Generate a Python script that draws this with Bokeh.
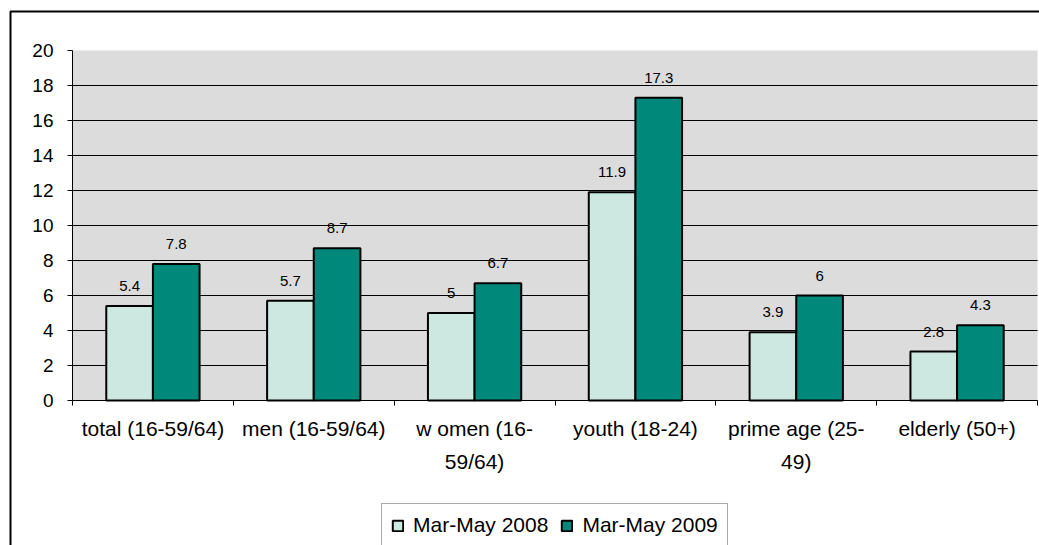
from bokeh.plotting import figure
from bokeh.models import ColumnDataSource, FixedTicker, LabelSet
from bokeh.core.properties import value
from bokeh.transform import dodge
from bokeh.embed import file_html
from bokeh.resources import INLINE

# Unemployment rate (%) by group, two survey periods
categories = ["total (16-59/64)", "men (16-59/64)", "w omen (16-\n59/64)",
              "youth (18-24)", "prime age (25-\n49)", "elderly (50+)"]
rate_2008 = [5.4, 5.7, 5.0, 11.9, 3.9, 2.8]
rate_2009 = [7.8, 8.7, 6.7, 17.3, 6.0, 4.3]
series_names = ["Mar-May 2008", "Mar-May 2009"]
y_ticks = list(range(0, 21, 2))

FONT = "Liberation Sans"
LIGHT = "#CCE8E0"
DARK = "#00897A"
PLOT_BG = "#DCDCDC"

W, H = 1039, 545
# pixel placement of the plotting area inside the canvas
AREA_L, AREA_R, AREA_T, AREA_B = 72, 1037, 50, 400

n = len(categories)
y_max = y_ticks[-1]
sx = (AREA_R - AREA_L) / n          # px per category
sy = (AREA_B - AREA_T) / y_max      # px per unit
x_range = (-AREA_L / sx, n + (W - AREA_R) / sx)
y_range = (-(H - AREA_B) / sy, y_max + AREA_T / sy)


def px_x(px):
    return (px - AREA_L) / sx


def px_y(py):
    return (AREA_B - py) / sy


centers = [i + 0.5 for i in range(n)]
src = ColumnDataSource(dict(
    xc=centers,
    y08=rate_2008,
    y09=rate_2009,
    t08=[f"{v:g}" for v in rate_2008],
    t09=[f"{v:g}" for v in rate_2009],
))

p = figure(width=W, height=H, output_backend="svg", toolbar_location=None,
           x_range=x_range, y_range=y_range, min_border=0)
p.background_fill_color = "white"
p.border_fill_color = "white"
p.outline_line_color = None
p.grid.visible = False

# chart border (top and left edges)
p.line(x=[px_x(10), px_x(10), px_x(W + 10)], y=[px_y(H + 10), px_y(11), px_y(11)],
       line_color="black", line_width=2)

# plotting area and horizontal gridlines
p.quad(left=0, right=n, bottom=0, top=y_max, fill_color=PLOT_BG, line_color=None)
grid_y = y_ticks[1:-1]
p.segment(x0=[0] * len(grid_y), x1=[n] * len(grid_y), y0=grid_y, y1=grid_y,
          line_color="black", line_width=1)

bar_w = 0.29
p.vbar(x=dodge("xc", -bar_w / 2, range=p.x_range), top="y08", width=bar_w,
       source=src, fill_color=LIGHT, line_color="black", line_width=2,
       legend_label=series_names[0])
p.vbar(x=dodge("xc", bar_w / 2, range=p.x_range), top="y09", width=bar_w,
       source=src, fill_color=DARK, line_color="black", line_width=2,
       legend_label=series_names[1])

for col, txt, off in (("y08", "t08", -bar_w / 2), ("y09", "t09", bar_w / 2)):
    p.add_layout(LabelSet(x=dodge("xc", off, range=p.x_range), y=col, text=txt,
                          source=src, y_offset=15, text_align="center",
                          text_baseline="alphabetic", text_font=value(FONT),
                          text_font_size="15px", text_color="black"))

# y axis pinned to the left edge of the plotting area
ya = p.yaxis[0]
ya.fixed_location = 0
ya.bounds = (0, y_max)
ya.ticker = FixedTicker(ticks=y_ticks)
ya.axis_line_color = "black"
ya.axis_line_width = 1
ya.major_tick_out = 5
ya.major_tick_in = 0
ya.minor_tick_line_color = None
ya.major_label_standoff = 14
ya.major_label_text_font = FONT
ya.major_label_text_font_size = "19px"
ya.major_label_text_color = "black"

# x axis pinned at zero: separators at category boundaries, labels at centers
xa = p.xaxis[0]
xa.fixed_location = 0
xa.bounds = (0, n)
xa.ticker = FixedTicker(ticks=centers, minor_ticks=list(range(n + 1)))
xa.major_label_overrides = {c: name for c, name in zip(centers, categories)}
xa.axis_line_color = "black"
xa.axis_line_width = 1
xa.major_tick_out = 0
xa.major_tick_in = 0
xa.minor_tick_out = 5
xa.minor_tick_in = 0
xa.minor_tick_line_color = "black"
xa.major_label_standoff = 11
xa.major_label_text_font = FONT
xa.major_label_text_font_size = "21px"
xa.major_label_text_color = "black"
xa.major_label_text_line_height = 1.45

# legend below the plotting area
lg = p.legend[0]
lg.orientation = "horizontal"
lg.location = (381, -2)
lg.padding = 9
lg.margin = 0
lg.spacing = 12
lg.glyph_width = 13
lg.glyph_height = 13
lg.label_standoff = 9
lg.label_text_font = FONT
lg.label_text_font_size = "21px"
lg.label_text_color = "black"
lg.border_line_color = "#555555"
lg.border_line_width = 1
lg.background_fill_color = "white"
lg.background_fill_alpha = 1

open("out.html", "w").write(file_html(p, INLINE))
